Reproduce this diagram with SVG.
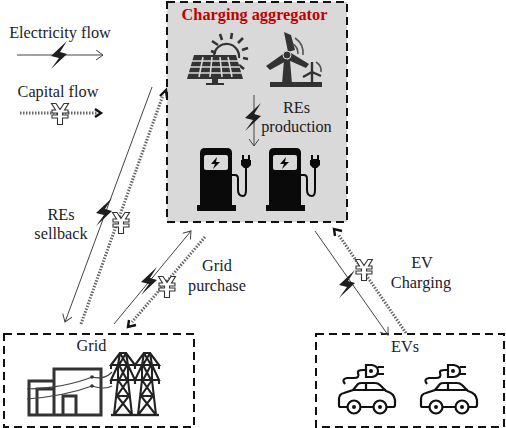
<svg xmlns="http://www.w3.org/2000/svg" width="506" height="428" viewBox="0 0 506 428">
<style>
text{font-family:"Liberation Serif","Times New Roman",serif;font-size:16.3px;fill:#1c1c28;text-anchor:middle}
.box{fill:none;stroke:#111;stroke-width:2;stroke-dasharray:8 5}
.el{fill:none;stroke:#444;stroke-width:1;marker-end:url(#open)}
.cap{fill:none;stroke:#666;stroke-width:3;stroke-dasharray:1.5 1.5}
.head{fill:none;stroke:#111;stroke-width:2.4}
.bolt{fill:#1e1e1e}
.yen{fill:#fff;stroke:#333;stroke-width:1.1}
.tw{fill:none;stroke:#222;stroke-width:2.1}
.car{fill:none;stroke:#111;stroke-width:2.2}
</style>
<defs>
<marker id="open" markerUnits="userSpaceOnUse" markerWidth="12" markerHeight="12" refX="9" refY="5" orient="auto"><path d="M2 0L9 5L2 10" fill="none" stroke="#444" stroke-width="1"/></marker>
<symbol id="b" overflow="visible"><path class="bolt" d="M8-14L-8 1L0 3L-8 14L8-1L1-3Z"/></symbol>
<symbol id="y" overflow="visible"><path class="yen" d="M-8.5-10.5H-4L0-4.5L4-10.5H8.5L4.5-4H8V-1H2.5V1H8V4H2.5V10.5H-2.5V4H-8V1H-2.5V-1H-8V-4H-4.5Z"/></symbol>
<symbol id="charger" overflow="visible">
<path fill="#0a0a0a" d="M200 205V153Q200 148 205 148H227Q232 148 232 153V205H236V211H197V205Z"/>
<rect x="204" y="155" width="24" height="15" rx="2" fill="#d9d9d9"/>
<path fill="#0a0a0a" d="M217 157L211 164H215L213 169L220 162H216Z"/>
<path fill="none" stroke="#0a0a0a" stroke-width="2" d="M232 175H235Q238 175 238 179V190Q238 196 243 196Q246 196 246 190V168"/>
<path fill="#0a0a0a" d="M242 155H244V159H248V155H250V160H251V165L248 168H244L241 165V160H242Z"/>
</symbol>
<symbol id="tower" overflow="visible">
<path class="tw" d="M-3-31H3L5-19V-4L9 31H-9L-5-4V-19ZM-3-31L-12-19H12L3-31M-5-19L-12-4H12L5-19M-5-4L6 12L-9 31M5-4L-6 12L9 31M-6 12H6M-4-19L4-4M4-19L-4-4M-3-31L4-19M3-31L-4-19M-12-19V-15M12-19V-15M-12-4V0M12-4V0"/>
<path stroke="#222" stroke-width="2.4" d="M-12 31H12"/>
</symbol>
<symbol id="evcar" overflow="visible">
<path class="car" d="M347 407H340Q339 407 339 405V399Q339 394 344 393L353 390L358 384Q359 383 362 383H375Q378 383 380 385L386 391Q394 393 395 400V405Q395 407 393 407H387M373 407H361M353 390H386M366 383V390"/>
<circle class="car" cx="354" cy="407" r="6.5"/><circle cx="354" cy="407" r="2" fill="#111"/>
<circle class="car" cx="380" cy="407" r="6.5"/><circle cx="380" cy="407" r="2" fill="#111"/>
<path class="car" stroke-width="1.6" d="M345 384Q341 379 347 378H354Q360 378 358 373Q357 370 363 370H366"/>
<path class="car" d="M366 365H372Q378 366 378 371Q378 376 372 377H366Z"/>
<path class="car" d="M378 367H384M378 374H384"/>
<circle cx="371" cy="371" r="2" fill="#111"/>
</symbol>
</defs>
<rect width="506" height="428" fill="#fff"/>
<g id="aggregator">
<rect x="167" y="2" width="180" height="220" fill="#d9d9d9"/>
<rect class="box" x="167" y="2" width="180" height="220"/>
<text x="254.5" y="20" style="font-weight:700;fill:#c00000">Charging aggregator</text>
<g id="solar">
<path fill="none" stroke="#333" stroke-width="2.2" d="M214 55A12.500 12.500 0 1 1 239 58"/>
<path stroke="#333" stroke-width="2.6" fill="none" d="M211 51L216 53M212 41L218 45M220 34L222 40M232 33L231 39M243 38L238 43M248 48L242 50M248 59L243 58M244 69L239 65"/>
<path fill="#333" d="M194 55H236L243 79H187Z"/>
<path stroke="#d9d9d9" stroke-width="1.6" d="M192 61H238M190 67H240M188 73H242M203 57L199 77M212 57L210 77M220 57L222 77M228 57L232 77"/>
<path fill="#333" d="M212 79H218V83H224V85H206V83H212Z"/>
</g>
<g id="wind">
<path fill="#333" d="M284 60H290L292 84H282Z"/>
<path fill="#333" d="M284 32L291 35L295 50L288 52ZM283 54L288 60L270 70L266 66ZM291 53L309 64L306 68L288 60Z"/>
<circle cx="287" cy="55" r="4" fill="#333" stroke="#d9d9d9"/>
<path fill="#333" d="M270 82H322V87H270Z"/>
<path stroke="#333" stroke-width="2.4" fill="none" d="M312 73V84M312 72V62M312 72L303 77M312 72L321 76"/>
<path stroke="#555" stroke-width="1.6" fill="none" d="M295 38Q304 44 303 55M293 44Q298 47 298 54M316 62Q322 66 321 72"/>
</g>
<path class="el" d="M254 95V146"/>
<use href="#b" x="253" y="117"/>
<text x="296.500" y="113">REs</text>
<text x="296.500" y="132">production</text>
<use href="#charger"/>
<use href="#charger" x="69"/>
</g>
<g id="grid">
<rect class="box" x="4" y="334" width="190" height="93"/>
<text x="91.500" y="351">Grid</text>
<path fill="none" stroke="#333" stroke-width="3" d="M54 415V369H101V415H29V381H54M37 415V389H54M63 415V396H76V415"/>
<path fill="none" stroke="#444" stroke-width="1.2" d="M27 389Q65 388 92 377Q105 380 112 372M27 399Q65 396 92 386Q105 390 112 386"/>
<circle cx="92" cy="377" r="1.8" fill="#333"/><circle cx="92" cy="386" r="1.8" fill="#333"/>
<use href="#tower" x="123" y="384"/>
<use href="#tower" x="147" y="384"/>
</g>
<g id="evs">
<rect class="box" x="316" y="334" width="188" height="93"/>
<text x="405" y="352">EVs</text>
<use href="#evcar"/>
<use href="#evcar" x="82"/>
</g>
<g id="legend">
<text x="60" y="38">Electricity flow</text>
<path class="el" d="M17 55H103"/>
<use href="#b" x="59" y="55"/>
<text x="58" y="97">Capital flow</text>
<path class="cap" d="M20 113H98"/>
<path class="head" d="M95 109L101 113L95 117"/>
<use href="#y" x="60" y="114"/>
</g>
<g id="connectors">
<path class="el" d="M152 87L65 322"/>
<path class="cap" d="M81 324L163 95"/>
<path class="head" d="M160 96L166 90L167 98"/>
<path class="el" d="M114 324L191 231"/>
<path class="cap" d="M205 237L132 322"/>
<path class="head" d="M129 320L128 327L136 325"/>
<path class="el" d="M315 231L388 335"/>
<path class="cap" d="M406 333L338 234"/>
<path class="head" d="M342 231L334 229L335 236"/>
<use href="#b" x="104" y="212"/>
<use href="#y" x="121" y="223"/>
<use href="#b" x="149" y="281"/>
<use href="#y" x="167" y="287"/>
<use href="#b" x="347" y="284"/>
<use href="#y" x="364" y="270"/>
</g>
<g id="labels">
<text x="61" y="220">REs</text>
<text x="61" y="239">sellback</text>
<text x="217" y="271">Grid</text>
<text x="217" y="291">purchase</text>
<text x="422" y="268">EV</text>
<text x="421" y="288">Charging</text>
</g>
</svg>
